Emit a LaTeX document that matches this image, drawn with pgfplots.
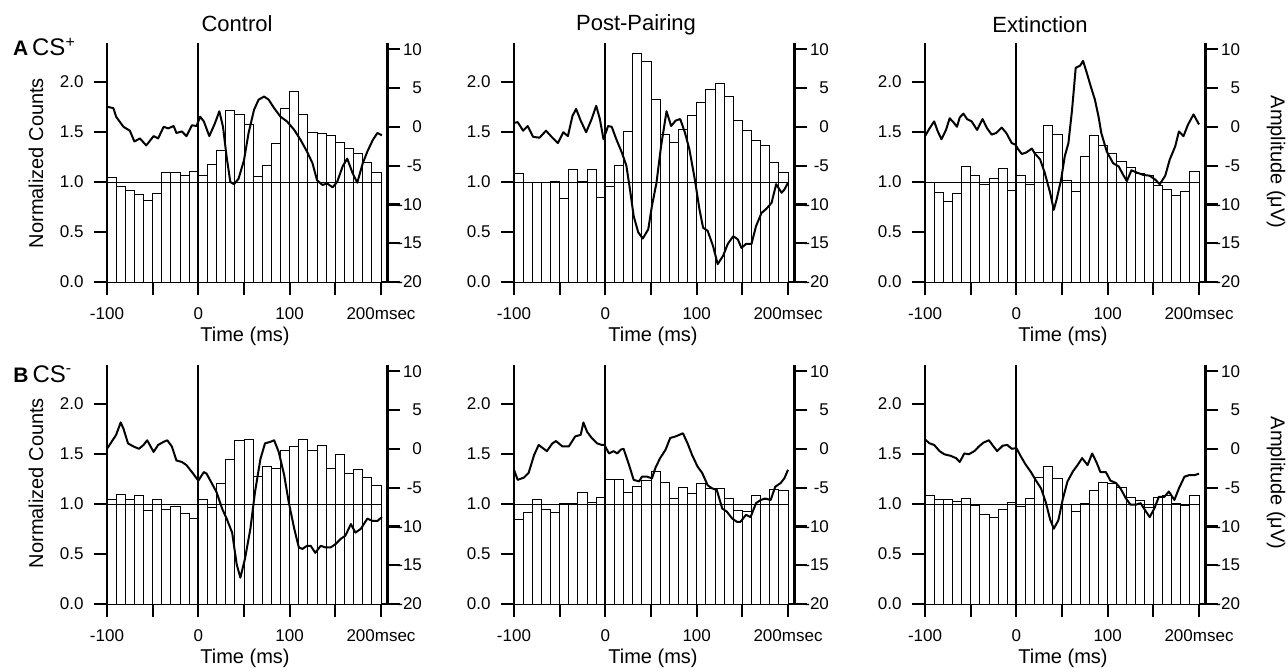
\documentclass[border=0pt]{standalone}
\usepackage{fontspec}
\setmainfont{Liberation Sans}
\usepackage{pgfplots}
\pgfplotsset{compat=1.18}
\pgfplotsset{
  panel/.style={scale only axis, width=140.2pt, height=119.5pt, xmin=-100, xmax=207,
    anchor=south west, clip=false, tick align=outside, major tick length=6.5pt,
    every tick/.style={black, line width=1.1pt},
    axis line style={-, line width=1.1pt},
    tick label style={font=\fontsize{8.5}{10}\selectfont}},
  leftax/.style={panel, ymin=0, ymax=2.39, axis x line*=bottom, axis y line*=left,
    xtick={-100,-50,0,50,100,150,200}, xticklabels={-100,,0,,100,,200msec},
    ytick={0,0.5,1,1.5,2}, yticklabels={0.0,0.5,1.0,1.5,2.0},
    xticklabel style={yshift=-3pt}, yticklabel style={xshift=-1.7pt}},
  rightax/.style={panel, ymin=-20, ymax=10.8, axis x line=none, axis y line*=right,
    ytick={-20,-15,-10,-5,0,5,10}, yticklabels={-20,-15,-10,-5,0,5,10},
    yticklabel style={anchor=east, xshift=14.3pt}},
  bars/.style={ybar, bar width=10, bar shift=0pt, fill=white, draw=black, line width=0.45pt},
  trace/.style={black, line width=1pt, line join=round, mark=none},
}
\newcommand{\extras}{%
  \draw[line width=0.5pt] (axis cs:-100,1) -- (axis cs:200,1);
  \draw[line width=1pt] (axis cs:0,0) -- (axis cs:0,2.39);}
\begin{document}
\begin{tikzpicture}
% ================= Row A =================
% --- Control
\begin{axis}[leftax, at={(53.5pt,-141pt)}]
\addplot[bars] coordinates {(-95,1.05)(-85,0.96)(-75,0.92)(-65,0.88)(-55,0.82)(-45,0.89)(-35,1.10)(-25,1.10)(-15,1.07)(-5,1.11)(5,1.07)(15,1.18)(25,1.32)(35,1.72)(45,1.68)(55,1.58)(65,1.06)(75,1.17)(85,1.39)(95,1.74)(105,1.91)(115,1.68)(125,1.50)(135,1.49)(145,1.47)(155,1.40)(165,1.34)(175,1.29)(185,1.20)(195,1.10)};
\extras
\end{axis}
\begin{axis}[rightax, at={(53.5pt,-141pt)}]
\addplot[trace] coordinates {(-100,2.6)(-93,2.4)(-90,1.3)(-82,0)(-75,-0.5)(-70,-1.9)(-64,-1.5)(-57,-2.4)(-49,-1.2)(-44,-1.5)(-38,0)(-33,-0.2)(-27,0.1)(-24,-0.8)(-18,-0.6)(-13,-1.2)(-7,0.2)(-2,0.1)(2,1.3)(6,0.7)(12,-1.2)(18,0.4)(23,2.0)(27,0)(31,-3.9)(35,-7.1)(39,-7.4)(44,-6.7)(50,-4.3)(55,-0.8)(61,2.2)(66,3.5)(72,3.9)(77,3.5)(83,2.4)(90,1.3)(97,0.7)(105,-0.4)(112,-1.7)(119,-3.2)(125,-4.7)(130,-6.9)(136,-7.5)(141,-7.3)(147,-7.8)(152,-7.1)(158,-5.1)(163,-4.1)(169,-6.0)(174,-7.2)(180,-4.7)(185,-3.2)(191,-1.7)(196,-0.8)(201,-1.1)};
\end{axis}
% --- Post-Pairing
\begin{axis}[leftax, at={(257pt,-141pt)}]
\addplot[bars] coordinates {(-95,1.09)(-85,1.00)(-75,1.00)(-65,1.00)(-55,1.01)(-45,0.84)(-35,1.13)(-25,1.01)(-15,1.13)(-5,0.85)(5,0.96)(15,1.17)(25,1.51)(35,2.29)(45,2.21)(55,1.83)(65,1.48)(75,1.40)(85,1.53)(95,1.67)(105,1.80)(115,1.93)(125,1.99)(135,1.86)(145,1.62)(155,1.52)(165,1.42)(175,1.37)(185,1.20)(195,1.10)};
\extras
\end{axis}
\begin{axis}[rightax, at={(257pt,-141pt)}]
\addplot[trace] coordinates {(-100,0.5)(-96,0.6)(-90,-0.5)(-85,0.1)(-79,-1.3)(-72,-1.4)(-65,-0.5)(-58,-1.4)(-52,-2.1)(-46,-0.7)(-41,-1.2)(-36,1.4)(-32,2.3)(-27,0.8)(-21,-0.7)(-15,1.0)(-10,2.7)(-6,1.0)(-2,-1.6)(3,0.1)(7,0)(12,-1.6)(18,-3.3)(23,-5.0)(27,-8.1)(31,-11.5)(36,-13.6)(41,-14.4)(47,-13.2)(51,-10.2)(56,-7.2)(61,-2.5)(67,2.0)(72,0.1)(77,0.8)(82,1.0)(87,-0.7)(92,-2.9)(98,-6.8)(103,-10.6)(107,-13.0)(112,-13.4)(118,-15.4)(123,-17.7)(129,-16.6)(134,-15.1)(140,-14.1)(145,-14.5)(149,-15.6)(154,-15.1)(160,-15.1)(165,-12.8)(171,-11.1)(176,-10.6)(182,-9.8)(187,-7.4)(193,-8.5)(196,-8.1)(200,-7.2)};
\end{axis}
% --- Extinction
\begin{axis}[leftax, at={(462.5pt,-141pt)}]
\addplot[bars] coordinates {(-95,1.00)(-85,0.90)(-75,0.81)(-65,0.89)(-55,1.16)(-45,1.07)(-35,0.98)(-25,1.04)(-15,1.14)(-5,0.92)(5,1.07)(15,0.98)(25,1.30)(35,1.57)(45,1.48)(55,1.02)(65,0.91)(75,1.26)(85,1.47)(95,1.37)(105,1.29)(115,1.21)(125,1.15)(135,1.09)(145,1.07)(155,0.97)(165,0.93)(175,0.87)(185,0.91)(195,1.11)};
\extras
\end{axis}
\begin{axis}[rightax, at={(462.5pt,-141pt)}]
\addplot[trace] coordinates {(-100,-1.2)(-95,-0.2)(-90,0.7)(-86,-0.6)(-82,-1.6)(-77,-0.4)(-73,1.1)(-69,0.6)(-65,0)(-62,1.2)(-58,1.7)(-54,1.0)(-49,0.7)(-43,-0.4)(-37,1.0)(-32,-0.2)(-27,-1.0)(-22,-0.8)(-16,-0.1)(-11,-0.8)(-5,-2.1)(-1,-2.3)(2,-2.9)(6,-3.5)(11,-3.3)(17,-2.8)(20,-3.4)(26,-4.2)(31,-5.9)(37,-8.5)(41,-10.7)(44,-9.4)(49,-6.8)(53,-3.8)(57,-2.1)(61,2.2)(65,7.6)(70,7.9)(73,8.5)(77,7.0)(82,5.0)(86,3.5)(90,1.3)(93,-0.8)(99,-3.2)(106,-4.7)(112,-5.1)(117,-6.2)(121,-7.0)(126,-5.6)(132,-5.9)(139,-6.2)(146,-6.3)(152,-6.8)(157,-7.4)(163,-6.3)(168,-4.2)(174,-2.5)(178,-0.6)(183,-1.2)(188,0.3)(194,1.6)(200,0.3)};
\end{axis}
% ================= Row B =================
% --- Control
\begin{axis}[leftax, at={(53.5pt,-302pt)}]
\addplot[bars] coordinates {(-95,1.05)(-85,1.10)(-75,1.05)(-65,1.09)(-55,0.94)(-45,1.05)(-35,0.95)(-25,0.98)(-15,0.91)(-5,0.86)(5,1.05)(15,0.97)(25,1.21)(35,1.45)(45,1.64)(55,1.65)(65,1.28)(75,1.38)(85,1.36)(95,1.54)(105,1.58)(115,1.65)(125,1.54)(135,1.59)(145,1.36)(155,1.50)(165,1.31)(175,1.35)(185,1.27)(195,1.19)};
\extras
\end{axis}
\begin{axis}[rightax, at={(53.5pt,-302pt)}]
\addplot[trace] coordinates {(-100,0.0)(-95,0.9)(-90,1.8)(-85,3.4)(-82,2.6)(-77,0.7)(-71,0.3)(-65,0.0)(-60,0.5)(-56,1.1)(-49,-0.4)(-44,0.5)(-38,0.9)(-34,1.1)(-29,0.3)(-24,-1.5)(-18,-1.7)(-13,-2.1)(-7,-3.0)(0,-4.1)(6,-3.0)(9,-3.2)(15,-4.5)(20,-5.6)(26,-7.7)(31,-9.0)(37,-10.8)(42,-14.9)(46,-16.6)(51,-14.2)(57,-10.3)(62,-5.6)(68,-1.3)(73,0.7)(79,0.9)(83,1.1)(88,-0.4)(94,-3.4)(99,-6.9)(105,-10.3)(110,-12.7)(114,-12.9)(119,-12.5)(123,-12.5)(128,-13.4)(134,-12.5)(139,-12.7)(145,-12.7)(150,-12.3)(156,-11.6)(161,-11.2)(167,-9.7)(172,-10.8)(178,-10.3)(185,-9.0)(191,-9.3)(196,-9.3)(201,-8.8)};
\end{axis}
% --- Post-Pairing
\begin{axis}[leftax, at={(257pt,-302pt)}]
\addplot[bars] coordinates {(-95,0.85)(-85,0.92)(-75,1.05)(-65,0.95)(-55,0.92)(-45,1.01)(-35,1.01)(-25,1.12)(-15,1.02)(-5,1.07)(5,1.25)(15,1.25)(25,1.12)(35,1.18)(45,1.24)(55,1.33)(65,1.22)(75,1.06)(85,1.17)(95,1.11)(105,1.21)(115,1.16)(125,1.16)(135,1.06)(145,0.94)(155,0.93)(165,1.09)(175,1.05)(185,1.15)(195,1.14)};
\extras
\end{axis}
\begin{axis}[rightax, at={(257pt,-302pt)}]
\addplot[trace] coordinates {(-100,-2.7)(-96,-4.0)(-89,-3.7)(-84,-3.1)(-78,-0.8)(-73,0.5)(-64,-0.3)(-58,0.7)(-54,1.0)(-47,0.3)(-40,0.3)(-33,1.6)(-27,1.8)(-24,3.4)(-20,2.2)(-15,1.4)(-9,0.7)(-4,0.5)(-1,0.5)(4,-0.6)(9,-0.3)(13,-0.6)(17,-0.1)(20,0.0)(26,-2.1)(31,-4.0)(37,-4.2)(40,-3.6)(46,-3.6)(51,-3.8)(55,-2.4)(60,-1.2)(66,-0.1)(71,1.4)(77,1.6)(81,1.8)(85,2.0)(90,0.7)(95,-0.8)(101,-2.3)(106,-3.1)(112,-4.7)(117,-5.1)(122,-5.3)(128,-7.7)(133,-8.1)(139,-9.0)(144,-9.4)(148,-9.4)(154,-8.5)(159,-8.8)(165,-7.0)(170,-6.6)(175,-6.4)(181,-6.6)(186,-4.9)(192,-4.4)(196,-3.8)(200,-2.7)};
\end{axis}
% --- Extinction
\begin{axis}[leftax, at={(462.5pt,-302pt)}]
\addplot[bars] coordinates {(-95,1.09)(-85,1.05)(-75,1.05)(-65,1.03)(-55,1.06)(-45,0.99)(-35,0.90)(-25,0.87)(-15,0.95)(-5,1.02)(5,0.98)(15,1.06)(25,1.27)(35,1.38)(45,1.26)(55,1.00)(65,0.93)(75,1.01)(85,1.14)(95,1.22)(105,1.21)(115,1.17)(125,1.07)(135,1.04)(145,0.97)(155,1.07)(165,1.09)(175,1.01)(185,0.99)(195,1.09)};
\extras
\end{axis}
\begin{axis}[rightax, at={(462.5pt,-302pt)}]
\addplot[trace] coordinates {(-100,1.2)(-95,0.7)(-90,0.5)(-84,-0.3)(-79,-0.7)(-72,-0.9)(-66,-1.2)(-62,-1.7)(-57,-0.6)(-52,-0.7)(-46,-0.3)(-41,0.3)(-36,0.8)(-30,1.1)(-25,0.3)(-21,-0.3)(-15,0.4)(-10,0.5)(-5,0.0)(0,0.1)(5,-1.0)(10,-2.0)(16,-3.0)(21,-4.0)(27,-5.1)(32,-6.8)(37,-9.1)(41,-10.3)(46,-9.2)(51,-6.4)(56,-4.2)(62,-2.9)(67,-2.1)(72,-1.2)(78,-2.1)(83,-0.6)(88,-1.8)(92,-3.0)(98,-3.0)(103,-4.1)(109,-4.4)(114,-5.1)(120,-6.4)(125,-7.2)(131,-7.2)(136,-7.0)(142,-8.1)(146,-8.8)(151,-7.7)(156,-6.2)(162,-6.2)(167,-5.5)(173,-6.6)(178,-5.1)(184,-3.6)(189,-3.4)(195,-3.4)(200,-3.2)};
\end{axis}
% ================= Text =================
\begin{scope}[every node/.style={inner sep=0pt}]
\node[font=\fontsize{11}{13}\selectfont] at (118.5pt,-12pt) {Control};
\node[font=\fontsize{11}{13}\selectfont] at (318pt,-12.5pt) {Post-Pairing};
\node[font=\fontsize{11}{13}\selectfont] at (520pt,-12.5pt) {Extinction};
\foreach \xx in {122.5,326.5,531.5}{
  \node[font=\fontsize{10}{12}\selectfont] at (\xx pt,-168pt) {Time (ms)};
  \node[font=\fontsize{10}{12}\selectfont] at (\xx pt,-329pt) {Time (ms)};}
\node[rotate=90, font=\fontsize{10}{12}\selectfont] at (18pt,-81.5pt) {Normalized Counts};
\node[rotate=90, font=\fontsize{10}{12}\selectfont] at (18pt,-241.5pt) {Normalized Counts};
\node[rotate=-90, font=\fontsize{10}{12}\selectfont] at (638pt,-81pt) {Amplitude (μV)};
\node[rotate=-90, font=\fontsize{10}{12}\selectfont] at (638pt,-241.5pt) {Amplitude (μV)};
\node[anchor=base west] at (6.3pt,-28pt) {\fontsize{10.5}{12}\selectfont\textbf{A}\hspace{2pt}\fontsize{12}{14}\selectfont CS\textsuperscript{+}};
\node[anchor=base west] at (6.5pt,-191pt) {\fontsize{10.5}{12}\selectfont\textbf{B}\hspace{2pt}\fontsize{12}{14}\selectfont CS\textsuperscript{-}};
\end{scope}
\pgfresetboundingbox
\path (0,0) rectangle (644pt,-334pt);
\end{tikzpicture}
\end{document}
